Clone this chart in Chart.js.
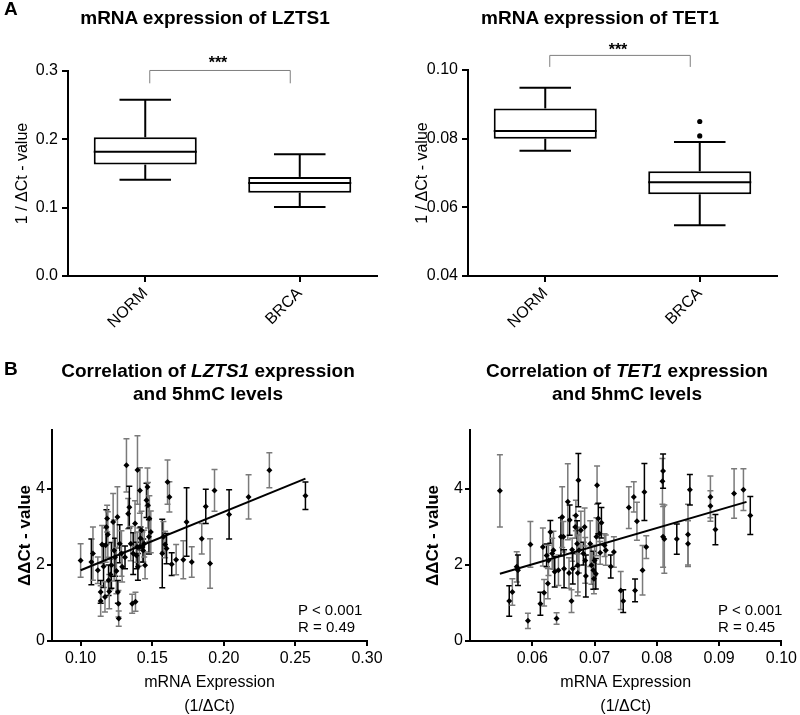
<!DOCTYPE html>
<html>
<head>
<meta charset="utf-8">
<script src="https://cdn.jsdelivr.net/npm/chart.js@4/dist/chart.umd.min.js"></script>
<style>
  html, body { margin: 0; padding: 0; background: #fff; }
  #fig { position: relative; width: 800px; height: 715px; overflow: hidden; background: #fff;
         font-family: 'Liberation Sans', Arial, sans-serif; color: #000; }
  #fig canvas { position: absolute; }
  .txt { position: absolute; white-space: nowrap; z-index: 2; }
  .letter { font-weight: bold; font-size: 19px; line-height: 20px; }
  .title { font-weight: bold; font-size: 19px; line-height: 23px; text-align: center; }
  .stars { font-weight: bold; font-size: 16px; line-height: 16px; text-align: center; width: 60px; }
  .stat { font-size: 15px; line-height: 17px; }
</style>
</head>
<body>
<div id="fig">
  <div class="txt letter" style="left:4px;top:-1px">A</div>
  <div class="txt title" style="left:0;top:6px;width:410px">mRNA expression of LZTS1</div>
  <div class="txt title" style="left:400px;top:6px;width:400px">mRNA expression of TET1</div>
  <div class="txt stars" style="left:188px;top:55px">***</div>
  <div class="txt stars" style="left:588px;top:42px">***</div>

  <div class="txt letter" style="left:4px;top:359px">B</div>
  <div class="txt title" style="left:8px;top:359px;width:400px">Correlation of <i>LZTS1</i> expression<br>and 5hmC levels</div>
  <div class="txt title" style="left:427px;top:359px;width:400px">Correlation of <i>TET1</i> expression<br>and 5hmC levels</div>
  <div class="txt stat" style="left:298px;top:601px">P &lt; 0.001<br>R = 0.49</div>
  <div class="txt stat" style="left:718px;top:601px">P &lt; 0.001<br>R = 0.45</div>

  <canvas id="boxLzts" width="400" height="360" style="left:0;top:0;width:400px;height:360px"></canvas>
  <canvas id="boxTet" width="400" height="360" style="left:400px;top:0;width:400px;height:360px"></canvas>
  <canvas id="corLzts" width="400" height="360" style="left:0;top:360px;width:400px;height:360px"></canvas>
  <canvas id="corTet" width="400" height="360" style="left:400px;top:360px;width:400px;height:360px"></canvas>
</div>

<script>
// ---- box plot data (panel A) ----
const boxCategories = ["NORM", "BRCA"];

const lztsMin = [0.141, 0.101];
const lztsQ1 = [0.163, 0.122];
const lztsMedian = [0.182, 0.136];
const lztsQ3 = [0.203, 0.145];
const lztsMax = [0.258, 0.178];
const lztsBoxTicks = [0.0, 0.1, 0.2, 0.3];

const tetMin = [0.0765, 0.0548];
const tetQ1 = [0.0800, 0.0638];
const tetMedian = [0.0822, 0.0673];
const tetQ3 = [0.0888, 0.0705];
const tetMax = [0.0948, 0.0790];
const tetOutliers = [[], [0.0850, 0.0808]];
const tetBoxTicks = [0.04, 0.06, 0.08, 0.10];

// ---- correlation data (panel B) ----
const lztsX = [0.100,0.1075,0.1086,0.112,0.114,0.114,0.115,0.116,0.117,0.1175,
  0.118,0.1185,0.119,0.1195,0.120,0.1208,0.1215,0.1227,0.1234,0.124,
  0.125,0.1257,0.126,0.1264,0.1266,0.1273,0.1285,0.129,0.131,0.132,
  0.1332,0.134,0.135,0.136,0.1367,0.138,0.1383,0.139,0.1395,0.1397,
  0.140,0.141,0.1414,0.1418,0.1425,0.1432,0.1437,0.1444,0.145,0.146,
  0.1467,0.147,0.1477,0.148,0.149,0.157,0.1578,0.159,0.160,0.1607,
  0.162,0.1636,0.1667,0.1717,0.174,0.1776,0.1846,0.1874,0.1904,0.1935,
  0.2037,0.2173,0.2318,0.257];
const lztsY = [2.12,2.08,2.3,1.86,1.29,1.05,2.54,1.96,1.16,2.52,
  3.0,3.22,2.8,1.6,1.3,1.75,1.99,3.13,2.38,2.2,
  1.84,3.26,1.29,0.98,0.59,2.56,2.3,1.95,2.2,4.62,
  3.35,3.52,2.56,0.98,2.3,3.09,1.03,2.25,2.47,4.5,
  1.95,2.47,3.96,2.7,2.91,2.47,2.38,2.56,1.99,3.7,
  4.05,3.57,2.74,3.22,2.87,2.3,2.74,2.54,2.43,4.18,
  3.79,2.02,2.14,2.14,3.13,2.08,2.69,3.54,2.04,3.96,
  3.33,3.79,4.49,3.82];
const lztsErr = [0.44,0.6,0.7,0.35,0.3,0.4,0.5,0.55,0.4,0.45,
  0.45,0.35,0.6,0.4,0.45,0.4,0.6,0.75,0.8,0.5,
  0.6,0.8,0.3,0.35,0.2,0.5,0.6,0.4,0.3,0.7,
  0.4,0.55,0.45,0.25,0.55,0.6,0.25,0.35,0.4,0.9,
  0.35,0.5,0.6,0.3,0.5,0.4,0.3,0.35,0.35,0.45,
  0.5,0.6,0.45,0.6,0.55,0.9,0.4,0.35,0.4,0.58,
  0.4,0.3,0.4,0.5,0.9,0.4,0.4,0.45,0.65,0.55,
  0.65,0.58,0.46,0.36];
const lztsFitX = [0.100, 0.257];
const lztsFitY = [1.86, 4.27];
const lztsXTicks = [0.10, 0.15, 0.20, 0.25, 0.30];

const tetX = [0.0548,0.0563,0.0568,0.0575,0.0577,0.0593,0.0597,0.0613,0.0617,0.0619,
  0.0623,0.0625,0.0626,0.0629,0.0632,0.0634,0.0636,0.0639,0.0642,0.0646,
  0.0648,0.065,0.0651,0.0657,0.0659,0.066,0.0663,0.0664,0.0665,0.0669,
  0.067,0.0672,0.0673,0.0673,0.0674,0.0675,0.0678,0.0682,0.0684,0.0685,
  0.0686,0.0693,0.0695,0.0698,0.0699,0.07,0.0702,0.0703,0.0704,0.0706,
  0.0708,0.0709,0.0711,0.0716,0.0718,0.0726,0.0731,0.0742,0.0746,0.0755,
  0.0763,0.0765,0.0768,0.0777,0.078,0.0783,0.0809,0.081,0.081,0.0812,
  0.0832,0.085,0.085,0.0853,0.0886,0.0886,0.0894,0.0924,0.0939,0.095];
const tetY = [3.95,1.05,1.29,1.95,1.86,0.53,2.54,0.98,2.47,1.27,
  2.25,1.51,2.12,2.87,2.3,2.39,1.82,0.59,1.86,2.74,
  3.26,2.74,1.9,3.66,1.79,3.18,1.05,2.4,1.9,3.0,
  3.3,2.56,1.79,1.99,4.23,2.39,2.91,2.3,3.0,2.12,
  1.71,2.56,1.99,1.86,1.64,2.12,1.77,2.74,4.1,3.22,
  2.82,2.32,3.11,2.52,2.39,1.96,2.34,1.33,1.05,3.51,
  3.79,1.33,3.15,1.86,3.92,2.47,4.2,4.47,2.74,2.68,
  2.68,2.8,2.56,3.98,3.79,3.55,2.93,3.88,3.98,3.3];
const tetErr = [0.95,0.4,0.35,0.4,0.4,0.2,0.6,0.3,0.5,0.35,
  0.3,0.4,0.4,0.3,0.4,0.5,0.4,0.15,0.4,0.5,
  0.8,0.4,0.5,1.0,0.4,0.4,0.3,0.3,0.4,0.3,
  0.4,0.6,0.5,0.8,0.7,0.6,0.5,0.3,0.5,0.6,
  0.55,0.6,0.5,0.5,0.4,0.4,0.4,0.5,0.5,0.4,
  0.3,0.3,0.4,0.3,0.4,0.3,0.4,0.5,0.3,0.55,
  0.4,0.3,0.5,0.65,0.75,0.3,0.6,0.45,0.8,0.9,
  0.4,0.8,0.6,0.4,0.55,0.4,0.4,0.65,0.55,0.5];
const tetFitX = [0.0548, 0.0944];
const tetFitY = [1.77, 3.66];
const tetXTicks = [0.06, 0.07, 0.08, 0.09, 0.10];
const corYTicks = [0, 2, 4];

Chart.defaults.font.family = "'Liberation Sans', Arial, sans-serif";
Chart.defaults.color = "#000";
Chart.defaults.animation = false;

const axisGrid = { drawOnChartArea: false, drawTicks: true, tickLength: 5, color: "#000", lineWidth: 2 };
const axisBorder = { display: true, color: "#000", width: 2 };

// whiskers, medians and the significance bracket for the box plots
const boxPlugin = {
  id: "boxExtras",
  afterDatasetsDraw(chart) {
    const o = chart.config.options.plugins.boxExtras;
    const { ctx } = chart;
    const x = chart.scales.x, y = chart.scales.y;
    const bars = chart.getDatasetMeta(0).data;
    ctx.save();
    ctx.strokeStyle = "#000";
    ctx.lineWidth = 2;
    bars.forEach((bar, i) => {
      const cx = x.getPixelForValue(i);
      const half = bar.width / 2;
      const cap = half / 2;
      const line = (x1, y1, x2, y2) => {
        ctx.beginPath(); ctx.moveTo(x1, y1); ctx.lineTo(x2, y2); ctx.stroke();
      };
      line(cx - half, y.getPixelForValue(o.median[i]), cx + half, y.getPixelForValue(o.median[i]));
      line(cx, y.getPixelForValue(o.q3[i]), cx, y.getPixelForValue(o.max[i]));
      line(cx, y.getPixelForValue(o.q1[i]), cx, y.getPixelForValue(o.min[i]));
      line(cx - cap, y.getPixelForValue(o.max[i]), cx + cap, y.getPixelForValue(o.max[i]));
      line(cx - cap, y.getPixelForValue(o.min[i]), cx + cap, y.getPixelForValue(o.min[i]));
    });
    // bracket
    const bx1 = x.getPixelForValue(0) + 4, bx2 = x.getPixelForValue(1) - 10;
    const by = y.getPixelForValue(o.bracket[0]), bl = y.getPixelForValue(o.bracket[1]);
    ctx.strokeStyle = "#7f7f7f";
    ctx.lineWidth = 1;
    ctx.beginPath();
    ctx.moveTo(bx1 + 0.5, bl); ctx.lineTo(bx1 + 0.5, by + 0.5);
    ctx.lineTo(bx2 + 0.5, by + 0.5); ctx.lineTo(bx2 + 0.5, bl);
    ctx.stroke();
    ctx.restore();
  }
};

function makeBox(id, st, ticks, digits, topPad) {
  const outlierPts = [];
  st.outliers.forEach((arr, i) => arr.forEach(v => outlierPts.push({ x: boxCategories[i], y: v })));
  return new Chart(document.getElementById(id), {
    type: "bar",
    data: {
      labels: boxCategories,
      datasets: [
        {
          data: st.q1.map((v, i) => [v, st.q3[i]]),
          backgroundColor: "#fff",
          borderColor: "#000",
          borderWidth: 2,
          borderSkipped: false,
          categoryPercentage: 1,
          barPercentage: 0.667
        },
        {
          type: "line",
          data: outlierPts,
          showLine: false,
          pointRadius: 2.6,
          pointBackgroundColor: "#000",
          pointBorderWidth: 0
        }
      ]
    },
    options: {
      responsive: false,
      layout: { padding: { top: topPad, right: 23, left: 0, bottom: 0 } },
      plugins: { legend: { display: false }, tooltip: { enabled: false }, boxExtras: st },
      scales: {
        x: {
          grid: { ...axisGrid, offset: false, tickLength: 6 },
          border: axisBorder,
          ticks: { minRotation: 45, maxRotation: 45, font: { size: 16 }, padding: 2 },
          afterFit: (s) => { s.height = 84; }
        },
        y: {
          min: ticks[0],
          max: ticks[ticks.length - 1],
          afterBuildTicks: (s) => { s.ticks = ticks.map(v => ({ value: v })); },
          grid: { ...axisGrid, tickLength: 6 },
          border: axisBorder,
          ticks: { font: { size: 16 }, padding: 4, callback: (v) => Number(v).toFixed(digits) },
          title: { display: true, text: "1 / \u0394Ct - value", font: { size: 16 }, padding: { top: 13, bottom: 0 } },
          afterFit: (s) => { s.width = 68; }
        }
      }
    },
    plugins: [boxPlugin]
  });
}

makeBox("boxLzts", {
  min: lztsMin, q1: lztsQ1, median: lztsMedian, q3: lztsQ3, max: lztsMax,
  outliers: [[], []], bracket: [0.3015, 0.282]
}, lztsBoxTicks, 1, 71);

makeBox("boxTet", {
  min: tetMin, q1: tetQ1, median: tetMedian, q3: tetQ3, max: tetMax,
  outliers: tetOutliers, bracket: [0.1044, 0.1009]
}, tetBoxTicks, 2, 70);

// vertical error bars under the points
const errorPlugin = {
  id: "errorBars",
  beforeDatasetsDraw(chart) {
    const o = chart.config.options.plugins.errorBars;
    const { ctx } = chart;
    const x = chart.scales.x, y = chart.scales.y;
    ctx.save();
    ctx.lineWidth = 1.5;
    o.x.forEach((xv, i) => {
      const px = x.getPixelForValue(xv);
      const top = y.getPixelForValue(o.y[i] + o.err[i]);
      const bot = y.getPixelForValue(o.y[i] - o.err[i]);
      ctx.strokeStyle = i % 3 === 1 ? "#000" : "#7a7a7a";
      ctx.beginPath();
      ctx.moveTo(px, top); ctx.lineTo(px, bot);
      ctx.moveTo(px - 3, top); ctx.lineTo(px + 3, top);
      ctx.moveTo(px - 3, bot); ctx.lineTo(px + 3, bot);
      ctx.stroke();
    });
    ctx.restore();
  }
};

function makeCorr(id, xs, ys, errs, fitX, fitY, xTicks, xMin, xMax, yAxisWidth, titlePad, rightPad) {
  return new Chart(document.getElementById(id), {
    type: "scatter",
    data: {
      datasets: [
        {
          data: xs.map((v, i) => ({ x: v, y: ys[i] })),
          pointStyle: "rectRot",
          pointRadius: 3,
          pointBackgroundColor: "#000",
          pointBorderWidth: 0
        },
        {
          type: "line",
          data: fitX.map((v, i) => ({ x: v, y: fitY[i] })),
          borderColor: "#000",
          borderWidth: 2,
          pointRadius: 0
        }
      ]
    },
    options: {
      responsive: false,
      layout: { padding: { top: 70, right: rightPad, left: 0, bottom: 0 } },
      plugins: {
        legend: { display: false }, tooltip: { enabled: false },
        errorBars: { x: xs, y: ys, err: errs }
      },
      scales: {
        x: {
          type: "linear",
          min: xMin, max: xMax,
          afterBuildTicks: (s) => { s.ticks = xTicks.map(v => ({ value: v })); },
          grid: axisGrid,
          border: axisBorder,
          ticks: { font: { size: 16 }, padding: 3, callback: (v) => Number(v).toFixed(2) },
          title: { display: true, text: ["mRNA Expression", "(1/\u0394Ct)"], font: { size: 16, lineHeight: 1.5 }, padding: { top: 0, bottom: 1 } },
          afterFit: (s) => { s.height = 79; }
        },
        y: {
          min: 0, max: 5.55,
          afterBuildTicks: (s) => { s.ticks = corYTicks.map(v => ({ value: v })); },
          grid: axisGrid,
          border: axisBorder,
          ticks: { font: { size: 16 }, padding: 2, callback: (v) => String(v) },
          title: { display: true, text: "\u0394\u0394Ct - value", font: { size: 17, weight: "bold" }, padding: { top: titlePad, bottom: 0 } },
          afterFit: (s) => { s.width = yAxisWidth; }
        }
      }
    },
    plugins: [errorPlugin]
  });
}

makeCorr("corLzts", lztsX, lztsY, lztsErr, lztsFitX, lztsFitY, lztsXTicks, 0.08, 0.30, 52, 15, 33);
makeCorr("corTet", tetX, tetY, tetErr, tetFitX, tetFitY, tetXTicks, 0.05, 0.10, 70, 23, 15);
</script>
</body>
</html>
